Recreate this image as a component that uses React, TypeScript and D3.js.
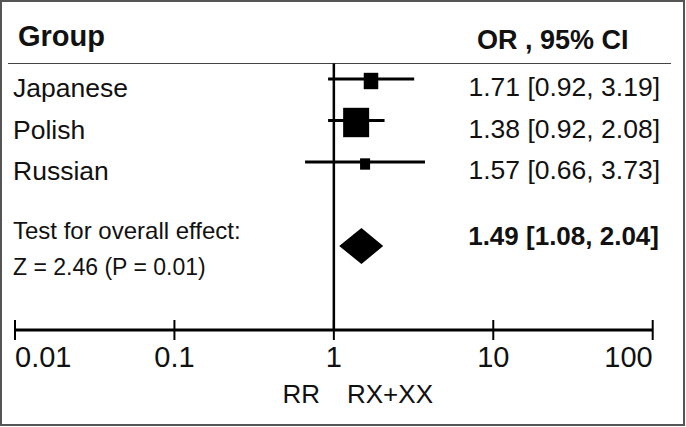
import React from "react";
import * as d3 from "d3";

const groups = ["Japanese", "Polish", "Russian"];
const orValues = [1.71, 1.38, 1.57];
const ciLower = [0.92, 0.92, 0.66];
const ciUpper = [3.19, 2.08, 3.73];
const weights = [21.3, 68.5, 10.2];
const ciLabels = ["1.71 [0.92, 3.19]", "1.38 [0.92, 2.08]", "1.57 [0.66, 3.73]"];

const overallOR = 1.49;
const overallLower = 1.08;
const overallUpper = 2.04;
const overallLabel = "1.49 [1.08, 2.04]";
const testLines = ["Test for overall effect:", "Z = 2.46 (P = 0.01)"];

const tickValues = [0.01, 0.1, 1, 10, 100];
const tickLabels = ["0.01", "0.1", "1", "10", "100"];

const W = 686;
const H = 427;
const FONT = "'Liberation Sans', Arial, sans-serif";

export default function App() {
  const x = d3.scaleLog().domain([0.01, 100]).range([15, 652.7]);
  const y = d3.scalePoint<string>().domain(groups).range([79, 162]);
  const size = d3.scaleSqrt().domain([0, d3.max(weights) as number]).range([0, 26]);
  const axisY = 330;
  const diamondY = 246;
  const diamondHalf = 18;

  const diamond = d3.line()([
    [x(overallLower), diamondY],
    [x(overallOR), diamondY - diamondHalf],
    [x(overallUpper), diamondY],
    [x(overallOR), diamondY + diamondHalf],
  ]) + "Z";

  return (
    <svg
      width={W}
      height={H}
      style={{ position: "absolute", left: 0, top: 0, background: "#fff" }}
      fontFamily={FONT}
    >
      <rect x={1} y={1} width={683} height={424} fill="#fff" stroke="#555" strokeWidth={2} />
      <text x={18} y={45.7} fontSize={29} fontWeight="bold" fill="#111">Group</text>
      <text x={477} y={49} fontSize={27} fontWeight="bold" fill="#111">OR , 95% CI</text>
      <line x1={8} x2={671} y1={63.5} y2={63.5} stroke="#444" strokeWidth={1.2} />

      {/* null line */}
      <line x1={x(1)} x2={x(1)} y1={63.5} y2={axisY} stroke="#000" strokeWidth={2.5} />

      {groups.map((g, i) => {
        const cy = y(g) as number;
        const s = size(weights[i]);
        const h = s * 1.13;
        return (
          <g key={g}>
            <text x={13} y={cy + 18} fontSize={26.5} fill="#111">{g}</text>
            <line x1={x(ciLower[i])} x2={x(ciUpper[i])} y1={cy} y2={cy} stroke="#000" strokeWidth={3} />
            <rect x={x(orValues[i]) - s / 2} y={cy + 2 - h / 2} width={s} height={h} fill="#000" />
            <text x={660} y={cy + 17} fontSize={26.5} textAnchor="end" fill="#111">{ciLabels[i]}</text>
          </g>
        );
      })}

      <text x={13} y={239} fontSize={24} fill="#111">{testLines[0]}</text>
      <text x={13} y={275} fontSize={23} fill="#111">{testLines[1]}</text>
      <path d={diamond} fill="#000" />
      <text x={659} y={245} fontSize={26} fontWeight="bold" textAnchor="end" fill="#111">{overallLabel}</text>

      {/* axis */}
      <line x1={x(0.01)} x2={x(100)} y1={axisY} y2={axisY} stroke="#000" strokeWidth={3} />
      {tickValues.map((t, i) => (
        <g key={t}>
          <line x1={x(t)} x2={x(t)} y1={axisY - 10} y2={axisY + 10} stroke="#000" strokeWidth={2} />
          <text
            x={x(t)}
            y={367}
            fontSize={29}
            fill="#111"
            textAnchor={i === 0 ? "start" : i === tickValues.length - 1 ? "end" : "middle"}
          >
            {tickLabels[i]}
          </text>
        </g>
      ))}
      <text x={320} y={403} fontSize={26} textAnchor="end" fill="#111">RR</text>
      <text x={347} y={403} fontSize={26} fill="#111">RX+XX</text>
    </svg>
  );
}
